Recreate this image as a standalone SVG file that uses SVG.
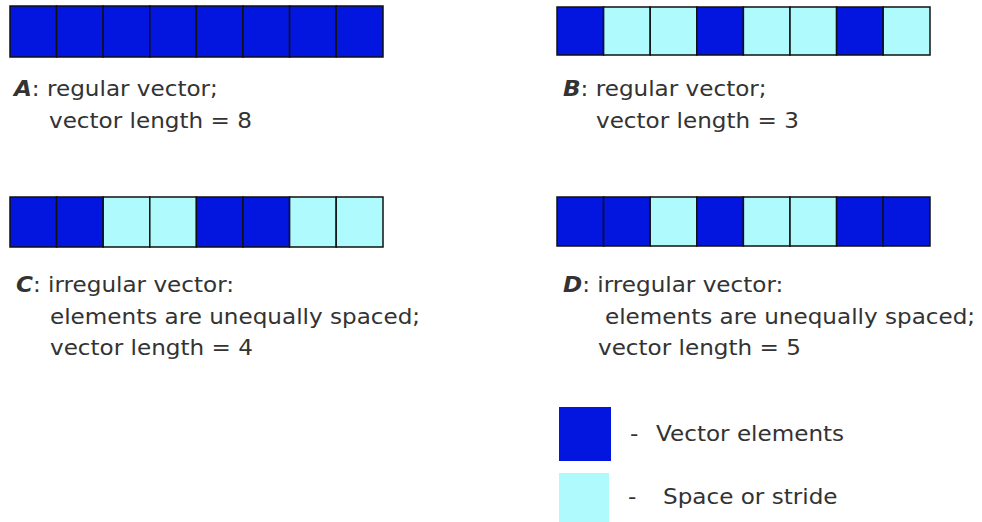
<svg xmlns="http://www.w3.org/2000/svg" width="982" height="522" viewBox="0 0 982 522">
<style>
.v{fill:#0216e0;stroke:#111;stroke-width:1.5}
.s{fill:#aefafc;stroke:#111;stroke-width:1.5}
.lv{fill:#0216e0}
.ls{fill:#aefafc}
text{font-family:"DejaVu Sans",Verdana,sans-serif;font-size:21px;fill:#333}
.k{font-weight:bold;font-style:italic}
</style>
<rect width="982" height="522" fill="#fff"/>
<g id="vectorA">
<rect class="v" x="10" y="6" width="46.6" height="51"/>
<rect class="v" x="56.6" y="6" width="46.6" height="51"/>
<rect class="v" x="103.2" y="6" width="46.6" height="51"/>
<rect class="v" x="149.8" y="6" width="46.6" height="51"/>
<rect class="v" x="196.4" y="6" width="46.6" height="51"/>
<rect class="v" x="243" y="6" width="46.6" height="51"/>
<rect class="v" x="289.6" y="6" width="46.6" height="51"/>
<rect class="v" x="336.2" y="6" width="46.8" height="51"/>
<text transform="matrix(1.1 0 0 1 14 96)"><tspan class="k">A</tspan>: regular vector;</text>
<text transform="matrix(1.1 0 0 1 49 128)">vector length = 8</text>
</g>
<g id="vectorB">
<rect class="v" x="557" y="7" width="46.6" height="48"/>
<rect class="s" x="603.6" y="7" width="46.6" height="48"/>
<rect class="s" x="650.2" y="7" width="46.6" height="48"/>
<rect class="v" x="696.8" y="7" width="46.6" height="48"/>
<rect class="s" x="743.4" y="7" width="46.6" height="48"/>
<rect class="s" x="790" y="7" width="46.6" height="48"/>
<rect class="v" x="836.6" y="7" width="46.6" height="48"/>
<rect class="s" x="883.2" y="7" width="46.8" height="48"/>
<text transform="matrix(1.1 0 0 1 563 96)"><tspan class="k">B</tspan>: regular vector;</text>
<text transform="matrix(1.1 0 0 1 596 128)">vector length = 3</text>
</g>
<g id="vectorC">
<rect class="v" x="10" y="197" width="46.6" height="50"/>
<rect class="v" x="56.6" y="197" width="46.6" height="50"/>
<rect class="s" x="103.2" y="197" width="46.6" height="50"/>
<rect class="s" x="149.8" y="197" width="46.6" height="50"/>
<rect class="v" x="196.4" y="197" width="46.6" height="50"/>
<rect class="v" x="243" y="197" width="46.6" height="50"/>
<rect class="s" x="289.6" y="197" width="46.6" height="50"/>
<rect class="s" x="336.2" y="197" width="46.8" height="50"/>
<text transform="matrix(1.1 0 0 1 16 292)"><tspan class="k">C</tspan>: irregular vector:</text>
<text transform="matrix(1.1 0 0 1 50 324)">elements are unequally spaced;</text>
<text transform="matrix(1.1 0 0 1 50 355)">vector length = 4</text>
</g>
<g id="vectorD">
<rect class="v" x="557" y="197" width="46.6" height="49"/>
<rect class="v" x="603.6" y="197" width="46.6" height="49"/>
<rect class="s" x="650.2" y="197" width="46.6" height="49"/>
<rect class="v" x="696.8" y="197" width="46.6" height="49"/>
<rect class="s" x="743.4" y="197" width="46.6" height="49"/>
<rect class="s" x="790" y="197" width="46.6" height="49"/>
<rect class="v" x="836.6" y="197" width="46.6" height="49"/>
<rect class="v" x="883.2" y="197" width="46.8" height="49"/>
<text transform="matrix(1.1 0 0 1 563 292)"><tspan class="k">D</tspan>: irregular vector:</text>
<text transform="matrix(1.1 0 0 1 605 324)">elements are unequally spaced;</text>
<text transform="matrix(1.1 0 0 1 598 355)">vector length = 5</text>
</g>
<g id="legend">
<rect class="lv" x="559" y="407" width="52" height="54"/>
<rect class="ls" x="559" y="473" width="50" height="49"/>
<text transform="matrix(1.1 0 0 1 630 441)">-</text>
<text transform="matrix(1.1 0 0 1 656 441)">Vector elements</text>
<text transform="matrix(1.1 0 0 1 628 504)">-</text>
<text transform="matrix(1.1 0 0 1 663 504)">Space or stride</text>
</g>
</svg>
